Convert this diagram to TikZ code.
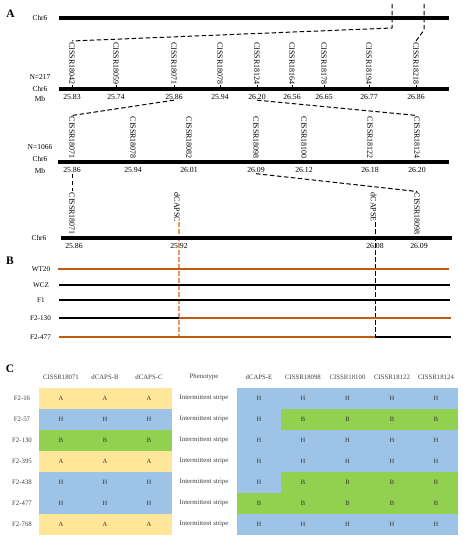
\documentclass[tikz,border=0pt]{standalone}
\usepackage{fontspec}
\setmainfont{Liberation Serif}
\definecolor{orng}{RGB}{197,90,17}
\definecolor{lorng}{RGB}{240,150,95}
\definecolor{colA}{RGB}{255,230,153}
\definecolor{colH}{RGB}{157,195,230}
\definecolor{colB}{RGB}{146,208,80}
\definecolor{tgray}{RGB}{64,64,64}
\begin{document}
\begin{tikzpicture}[x=1bp,y=-1bp,
  chr/.style={line width=3.3bp,black},
  gline/.style={line width=1.8bp},
  mk/.style={rotate=-90,anchor=west,inner sep=1bp,font=\fontsize{8}{9}\selectfont},
  num/.style={anchor=north,inner sep=0.5bp,font=\fontsize{7.8}{9}\selectfont},
  lab/.style={font=\fontsize{7.5}{9}\selectfont,inner sep=0},
  blab/.style={font=\fontsize{7.2}{9}\selectfont,inner sep=0},
  clab/.style={font=\fontsize{6.8}{8}\selectfont,text=tgray,inner sep=0},
  cell/.style={font=\fontsize{6.5}{8}\selectfont,text=tgray!80!black,inner sep=0},
  panel/.style={font=\fontsize{11.5}{12}\selectfont\bfseries,inner sep=0},
  dsh/.style={dash pattern=on 4.5bp off 2.5bp,line width=1bp},
  tick/.style={line width=0.7bp}]
\useasboundingbox (0,0) rectangle (468,550);

% ---------- Panel A ----------
\node[panel] (pA) at (10.5,13.5) {A};
\node[lab] (chr0) at (40,18) {Chr6};
\coordinate (L0a) at (59,18); \coordinate (L0b) at (449,18);
\draw[chr] (L0a) -- (L0b);

% row 1
\node[lab] (N1) at (40,77) {N=217};
\node[lab] (chr1) at (40,88.5) {Chr6};
\node[lab] (mb1) at (40,99) {Mb};
\foreach \i/\x/\t/\n in {1/72/CISSR18042/25.83,2/116/CISSR18059/25.74,3/174/CISSR18071/25.86,
  4/220/CISSR18078/25.94,5/257/CISSR18124/26.20,6/292/CISSR18164/26.56,7/324/CISSR18178/26.65,
  8/369/CISSR18194/26.77,9/416/CISSR18218/26.86}{
  \node[mk] (m1-\i) at (\x,41) {\t};
  \coordinate (c1-\i) at (\x,90);
  \draw[tick] (m1-\i.east) -- (c1-\i);
  \node[num] (n1-\i) at (\x,93.5) {\n};
}
\coordinate (L1a) at (59,89); \coordinate (L1b) at (449,89);
\draw[chr] (L1a) -- (L1b);

\coordinate (t1a) at (392,4); \coordinate (t1b) at (392,28);
\coordinate (t2a) at (424,4); \coordinate (t2b) at (424,30);
\draw[dsh] (t1a) -- (t1b) -- (m1-1.west);
\draw[dsh] (t2a) -- (t2b) -- (m1-9.west);

% row 2
\node[lab] (N2) at (40,147) {N=1066};
\node[lab] (chr2) at (40,159) {Chr6};
\node[lab] (mb2) at (40,171) {Mb};
\foreach \i/\x/\t/\n in {1/72/CISSR18071/25.86,2/133/CISSR18078/25.94,3/189/CISSR18082/26.01,
  4/256/CISSR18098/26.09,5/304/CISSR18100/26.12,6/370/CISSR18122/26.18,7/417/CISSR18124/26.20}{
  \node[mk] (m2-\i) at (\x,115.5) {\t};
  \coordinate (c2-\i) at (\x,163);
  \draw[tick] (m2-\i.east) -- (c2-\i);
  \node[num] (n2-\i) at (\x,167) {\n};
}
\coordinate (L2a) at (58,162); \coordinate (L2b) at (449,162);
\draw[chr] (L2a) -- (L2b);
\draw[dsh] (n1-3.south) -- (m2-1.west);
\draw[dsh] (n1-5.south) -- (m2-7.west);

% row 3
\node[lab] (chr3) at (39,238) {Chr6};
\foreach \i/\x/\t/\n in {1/72/CISSR18071/25.86,4/417/CISSR18098/26.09}{
  \node[mk] (m3-\i) at (\x,191.5) {\t};
  \coordinate (c3-\i) at (\x,239);
  \draw[tick] (m3-\i.east) -- (c3-\i);
  \node[num] (n3-\i) at (\x+2,243) {\n};
}
\node[mk] (m3-2) at (177,191.5) {dCAPSC};
\node[mk] (m3-3) at (373.5,191.5) {dCAPSE};
\node[num] (n3-2) at (179,243) {25.92};
\node[num] (n3-3) at (375,243) {26.08};
\draw[dsh] (n2-1.south) -- (m3-1.west);
\draw[dsh] (n2-4.south) -- (m3-4.west);

% dCAPS guide lines
\coordinate (gC0) at (179,222);
\coordinate (gC) at (179,336);
\coordinate (gE0) at (375,222);
\coordinate (gE) at (375,337);
\draw[dsh,lorng,line width=1.2bp] (gC0) -- (gC);
\draw[dsh] (gE0) -- (gE);

\coordinate (L3a) at (61,238); \coordinate (L3b) at (452,238);
\draw[chr] (L3a) -- (L3b);

% ---------- Panel B ----------
\node[panel] (pB) at (10,260.5) {B};
\node[blab] (wt) at (41,269) {WT20};
\node[blab] (wcz) at (41,285) {WCZ};
\node[blab] (f1) at (41,300) {F1};
\node[blab] (f130) at (40.5,318) {F2-130};
\node[blab] (f477) at (40.5,337) {F2-477};
\coordinate (b1a) at (58,269); \coordinate (b1b) at (449,269);
\coordinate (b2a) at (59,285); \coordinate (b2b) at (450,285);
\coordinate (b3a) at (59,300); \coordinate (b3b) at (450,300);
\coordinate (b4a) at (59,318); \coordinate (b4m) at (179,318); \coordinate (b4b) at (451,318);
\coordinate (b5a) at (59,337); \coordinate (b5m) at (375,337); \coordinate (b5b) at (451,337);
\draw[gline,orng] (b1a) -- (b1b);
\draw[gline] (b2a) -- (b2b);
\draw[gline] (b3a) -- (b3b);
\draw[gline] (b4a) -- (b4m);
\draw[gline,orng] (b4m) -- (b4b);
\draw[gline,orng] (b5a) -- (b5m);
\draw[gline] (b5m) -- (b5b);

% ---------- Panel C ----------
\node[panel] (pC) at (10,369) {C};
\foreach \i/\x/\t in {1/61/CISSR18071,2/105/dCAPS-B,3/149/dCAPS-C,4/204/Phenotype,
  5/259/dCAPS-E,6/303/CISSR18098,7/347.5/CISSR18100,8/392/CISSR18122,9/436/CISSR18124}{
  \node[clab] (h\i) at (\x,377) {\t};
}
\foreach \r/\lab/\L/\E/\R in {1/F2-16/A/H/H,2/F2-57/H/H/B,3/F2-130/B/H/H,4/F2-395/A/H/H,
  5/F2-438/H/H/B,6/F2-477/H/B/B,7/F2-768/A/H/H}{
  \pgfmathsetmacro{\yc}{398+21*(\r-1)}
  \fill[col\L] (39,\yc-10.5) rectangle (171.5,\yc+10.5);
  \fill[col\E] (237,\yc-10.5) rectangle (281.4,\yc+10.5);
  \fill[col\R] (281.2,\yc-10.5) rectangle (458,\yc+10.5);
  \node[clab] (rl\r) at (22,\yc) {\lab};
  \node[cell] (cA\r) at (61,\yc) {\L};
  \node[cell] (cB\r) at (105,\yc) {\L};
  \node[cell] (cC\r) at (149,\yc) {\L};
  \node[clab] (ph\r) at (204,\yc) {Intermittent stripe};
  \node[cell] (cE\r) at (259,\yc) {\E};
  \node[cell] (c6\r) at (303,\yc) {\R};
  \node[cell] (c7\r) at (347.5,\yc) {\R};
  \node[cell] (c8\r) at (392,\yc) {\R};
  \node[cell] (c9\r) at (436,\yc) {\R};
}
\end{tikzpicture}
\end{document}
